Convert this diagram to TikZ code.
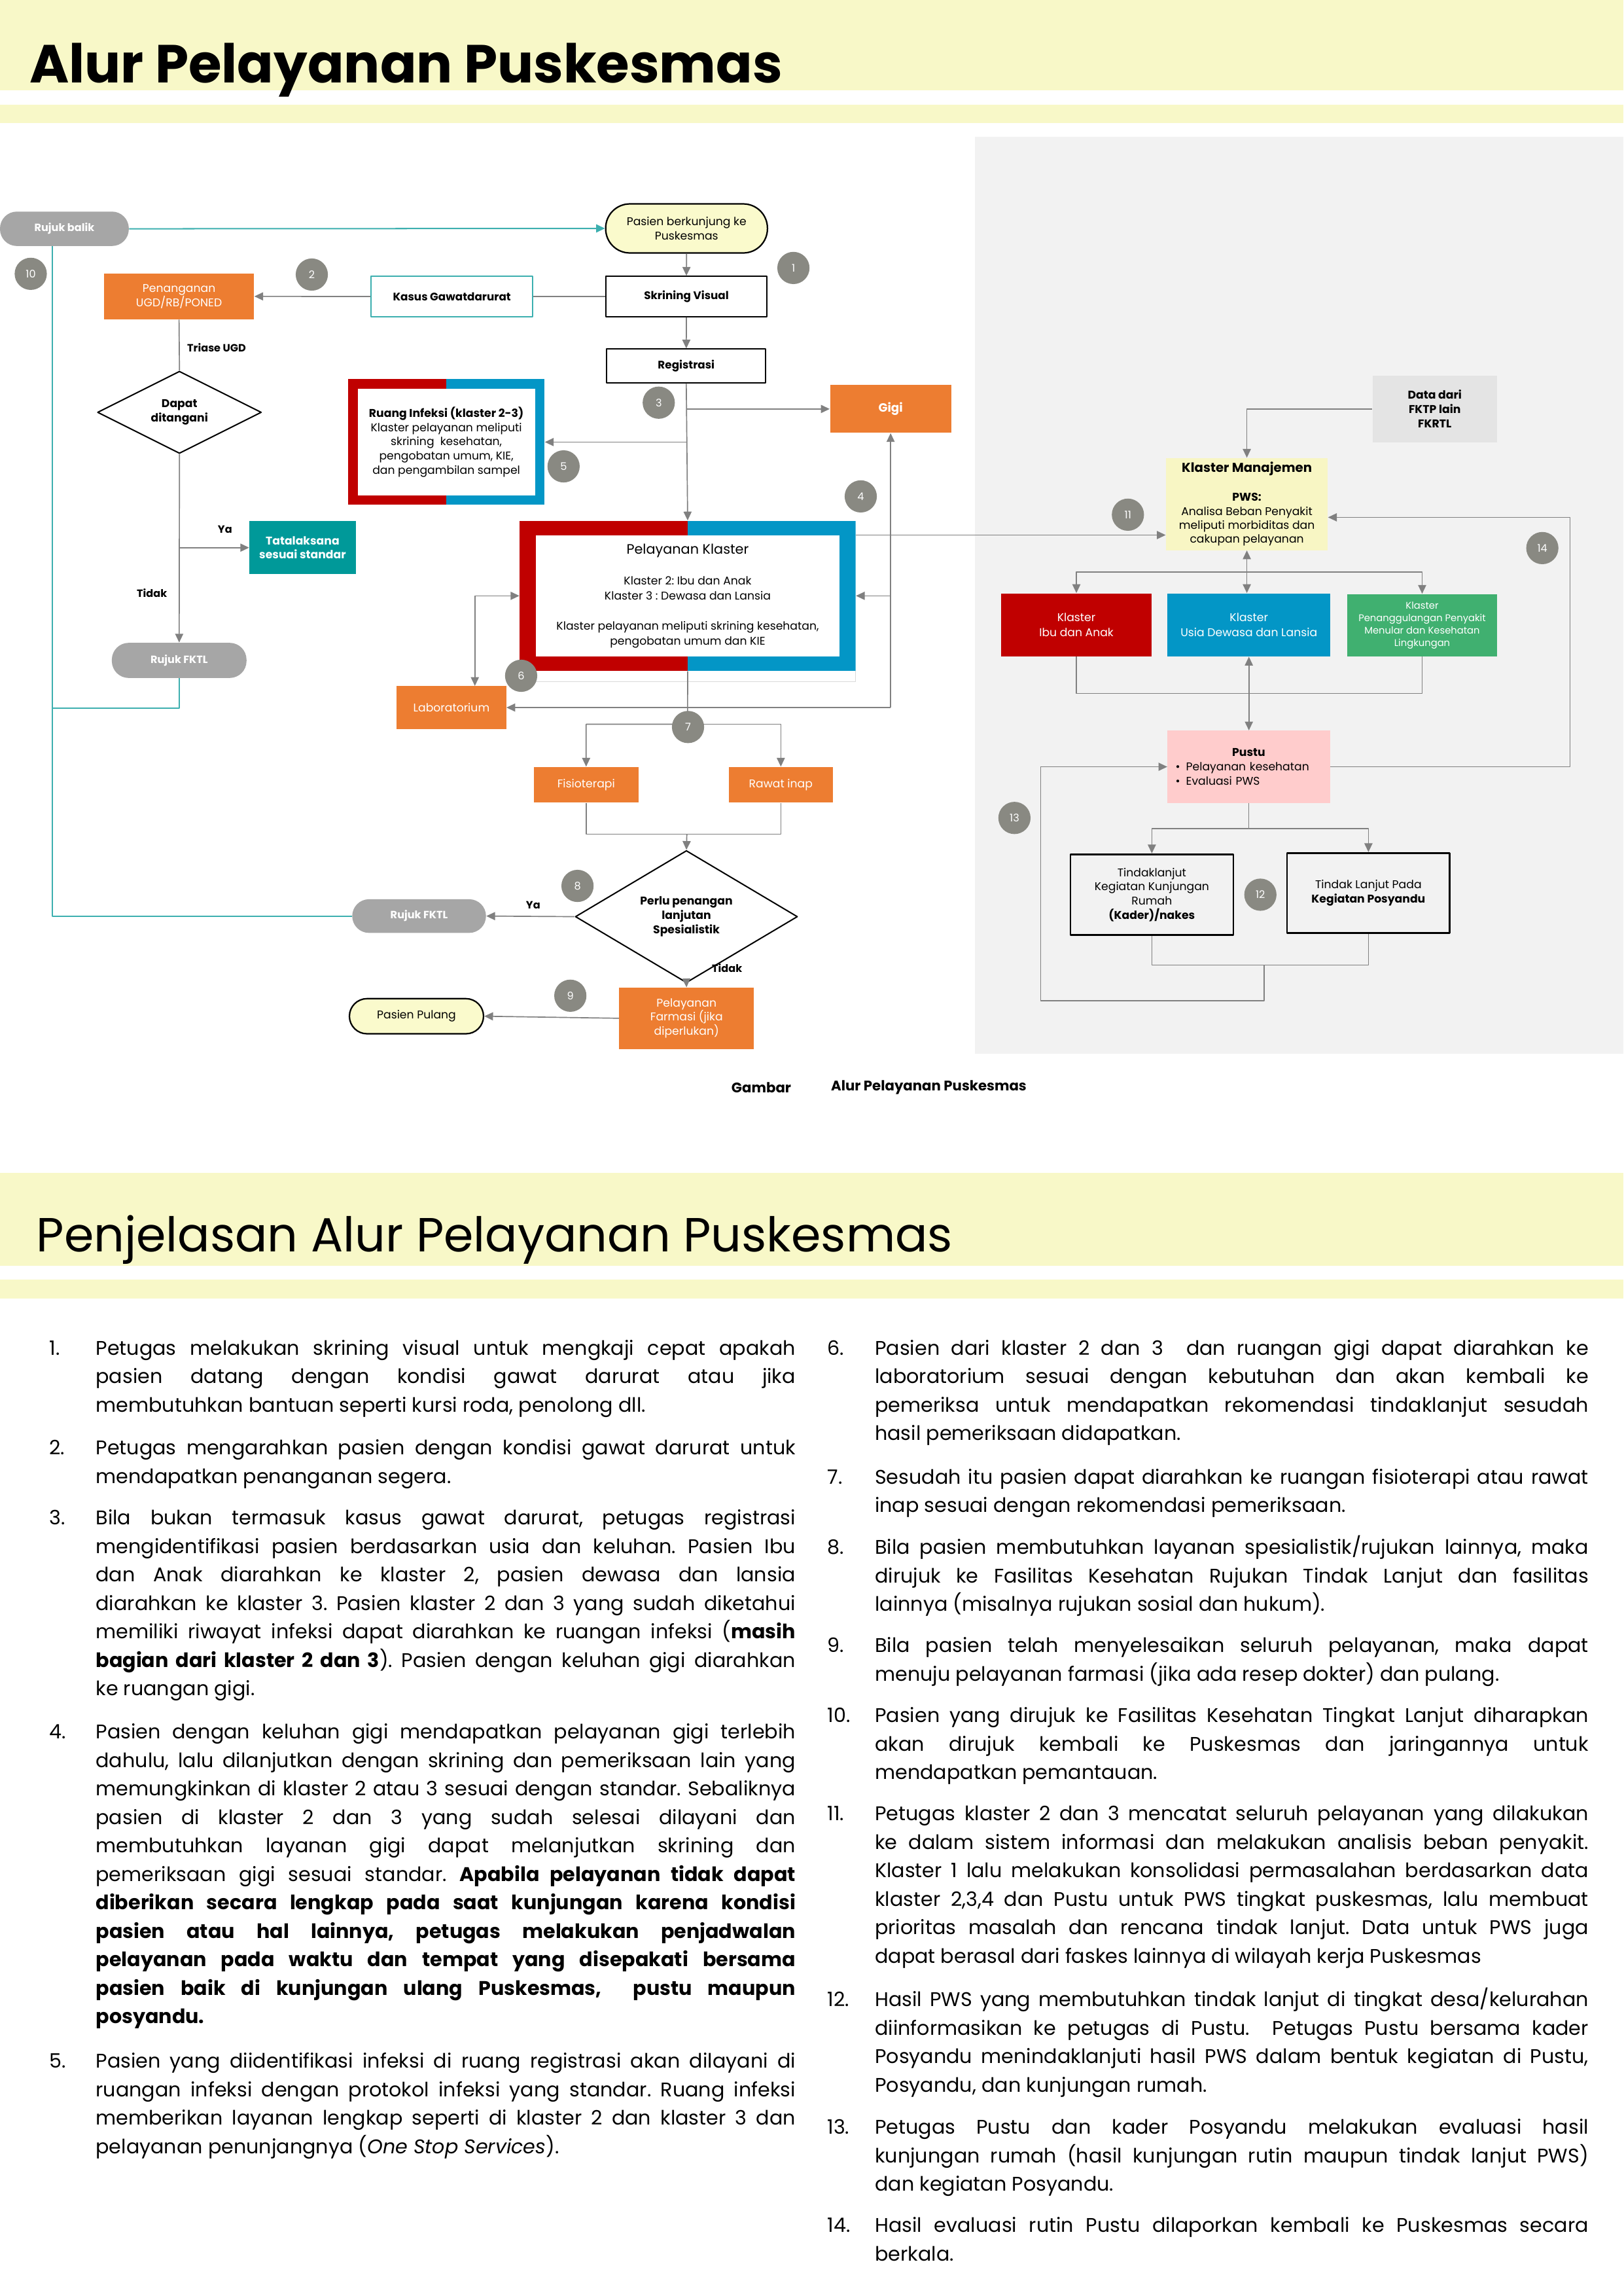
\documentclass[tikz,border=0pt]{standalone}
\usepackage{fontspec}
\setmainfont{Poppins}
\usetikzlibrary{arrows.meta,shapes.geometric}
\definecolor{bandY}{RGB}{248,248,200}
\definecolor{panelG}{RGB}{242,242,242}
\definecolor{lineG}{RGB}{128,128,128}
\definecolor{tealL}{RGB}{60,175,175}
\definecolor{tealF}{RGB}{0,153,153}
\definecolor{badgeG}{RGB}{137,137,130}
\definecolor{pillG}{RGB}{166,166,166}
\definecolor{pillY}{RGB}{250,250,204}
\definecolor{boxO}{RGB}{237,125,49}
\definecolor{klRed}{RGB}{192,0,0}
\definecolor{klBlue}{RGB}{3,150,198}
\definecolor{klGreen}{RGB}{64,176,112}
\definecolor{kmY}{RGB}{248,246,196}
\definecolor{pustuP}{RGB}{255,204,204}
\definecolor{dataG}{RGB}{228,228,228}
\hyphenpenalty=10000
\exhyphenpenalty=10000
\tolerance=10000
\frenchspacing
\tikzset{conn/.style={draw=lineG,line width=.75pt},
 arr/.style={conn,-{Triangle[length=6pt,width=5.5pt]}},
 arrb/.style={conn,{Triangle[length=6pt,width=5.5pt]}-{Triangle[length=6pt,width=5.5pt]}},
 tconn/.style={draw=tealL,line width=.9pt},
 tarr/.style={tconn,-{Triangle[length=6pt,width=5.5pt]}},
 badge/.style={circle,fill=badgeG,text=white,minimum size=22pt,inner sep=0pt,font=\fontsize{7.2}{8}\selectfont},
 obox/.style={rectangle,fill=boxO,text=white,align=center,inner sep=1pt,font=\fontsize{7.7}{9.7}\selectfont},
 wbox/.style={rectangle,draw=black,line width=.9pt,fill=white,inner sep=1pt,font=\fontsize{7.5}{8.5}\selectfont\bfseries},
 gpill/.style={rectangle,rounded corners=11.5pt,fill=pillG,text=white,inner sep=1pt,font=\fontsize{7.2}{8.5}\selectfont\bfseries},
 ypill/.style={rectangle,rounded corners=12pt,draw=black,line width=1pt,fill=pillY,align=center,inner sep=1pt,font=\fontsize{7.7}{9.7}\selectfont},
 decide/.style={diamond,draw=black,line width=.9pt,fill=white,inner sep=0pt,align=center,font=\fontsize{7.7}{9.7}\selectfont\bfseries},
 cbox/.style={rectangle,text=white,align=center,inner sep=1pt,font=\fontsize{7.7}{10}\selectfont},
 lbl/.style={inner sep=0pt,font=\fontsize{7.2}{8.5}\selectfont\bfseries},
 klframe/.style 2 args={rectangle,inner sep=0pt,align=center,path picture={
  \fill[klRed] (path picture bounding box.north west) rectangle (path picture bounding box.south);
  \fill[klBlue] (path picture bounding box.north) rectangle (path picture bounding box.south east);
  \fill[white] ([xshift=#1,yshift=-#2]path picture bounding box.north west) rectangle ([xshift=-#1,yshift=#2]path picture bounding box.south east);}},
 num/.style={anchor=base west,inner sep=0pt,font=\fontsize{13.5}{19.45}\selectfont},
 bodyL/.style={num,align=justify,text width=478pt},
 bodyR/.style={num,align=justify,text width=487.5pt},
 every picture/.style={line join=round}}
\begin{document}
\begin{tikzpicture}[x=1pt,y=-1pt]
\useasboundingbox (0,0) rectangle (1109,1568);
\fill[bandY] (0,0) rectangle (1109,61.8);
\fill[bandY] (0,71.6) rectangle (1109,84);
\fill[bandY] (0,801) rectangle (1109,864.6);
\fill[bandY] (0,874) rectangle (1109,887);
\fill[panelG] (666,93.5) rectangle (1109,719.5);
\node[anchor=base west,inner sep=0pt,font=\fontsize{36.6}{40}\selectfont\bfseries] (title) at (20,56.7) {Alur Pelayanan Puskesmas};
\node[anchor=base west,inner sep=0pt,font=\fontsize{32.7}{36}\selectfont] (title2) at (24.7,855) {Penjelasan Alur Pelayanan Puskesmas};
\node[gpill,minimum width=88pt,minimum height=23.5pt] (rb) at (44,156.25) {Rujuk balik};
\node[ypill,rounded corners=16.5pt,minimum width=110.5pt,minimum height=33.5pt] (pasien) at (469,156) {Pasien berkunjung ke\\Puskesmas};
\node[wbox,minimum width=110.3pt,minimum height=27.5pt] (skr) at (468.9,202.5) {Skrining Visual};
\node[wbox,draw=tealL,minimum width=110.5pt,minimum height=27.5pt] (kasus) at (308.7,202.5) {Kasus Gawatdarurat};
\node[obox,minimum width=102.5pt,minimum height=31.3pt] (ugd) at (122.3,202.4) {Penanganan\\UGD/RB/PONED};
\node[decide,minimum width=112pt,minimum height=54.3pt] (dt) at (122.6,281.6) {Dapat\\ditangani};
\node[cbox,fill=tealF,font=\fontsize{7.7}{9.7}\selectfont\bfseries,minimum width=72.6pt,minimum height=36pt] (tata) at (206.7,374) {Tatalaksana\\sesuai standar};
\node[gpill,minimum width=92pt,minimum height=24pt] (rf1) at (122.4,451) {Rujuk FKTL};
\node[klframe={6.5pt}{6.5pt},minimum width=134.2pt,minimum height=85.8pt,font=\fontsize{7.7}{9.8}\selectfont] (ri) at (304.9,301.9) {\textbf{Ruang Infeksi (klaster 2-3)}\\Klaster pelayanan meliputi\\skrining\ \ kesehatan,\\pengobatan umum, KIE,\\dan pengambilan sampel};
\node[wbox,minimum width=108.5pt,minimum height=23.2pt] (reg) at (468.8,250) {Registrasi};
\node[obox,font=\fontsize{8.2}{9}\selectfont\bfseries,minimum width=82.8pt,minimum height=32.6pt] (gigi) at (608.4,279.3) {Gigi};
\draw[draw=black!15,line width=.6pt] (356,465.6) -- (584.5,465.6) -- (584.5,458);
\node[klframe={11pt}{10pt},minimum width=229.5pt,minimum height=102.6pt,font=\fontsize{7.7}{10.2}\selectfont] (pk) at (469.75,406.9) {{\fontsize{9.3}{10.2}\selectfont Pelayanan Klaster}\\[11pt]Klaster 2: Ibu dan Anak\\Klaster 3 : Dewasa dan Lansia\\[10.4pt]Klaster pelayanan meliputi skrining kesehatan,\\pengobatan umum dan KIE};
\node[obox,minimum width=74.7pt,minimum height=29.1pt] (lab) at (308.4,483.2) {Laboratorium};
\node[obox,minimum width=71.6pt,minimum height=24.3pt] (fis) at (400.4,535.9) {Fisioterapi};
\node[obox,minimum width=71.2pt,minimum height=24.3pt] (rawat) at (533.4,535.9) {Rawat inap};
\node[decide,minimum width=151.8pt,minimum height=68.9pt] (sp) at (468.9,626) {Perlu penangan\\lanjutan\\Spesialistik};
\node[gpill,minimum width=91.4pt,minimum height=23pt] (rf2) at (286.3,625.6) {Rujuk FKTL};
\node[obox,minimum width=92pt,minimum height=41.9pt] (farm) at (469,695.4) {Pelayanan\\Farmasi (jika\\diperlukan)};
\node[ypill,minimum width=91.6pt,minimum height=24pt] (pp) at (284.5,694) {Pasien Pulang};
\node[rectangle,fill=dataG,align=center,inner sep=1pt,font=\fontsize{7.7}{9.75}\selectfont\bfseries,minimum width=85pt,minimum height=45.5pt] (data) at (980.1,279.3) {Data dari\\FKTP lain\\FKRTL};
\node[rectangle,fill=kmY,align=center,inner sep=1pt,font=\fontsize{7.7}{9.6}\selectfont,minimum width=110.5pt,minimum height=62.9pt] (km) at (851.75,344.25) {{\fontsize{8.8}{9.6}\selectfont\bfseries Klaster Manajemen}\\[10pt]\textbf{PWS:}\\Analisa Beban Penyakit\\meliputi morbiditas dan\\cakupan pelayanan};
\node[cbox,fill=klRed,minimum width=102.6pt,minimum height=43.1pt] (ibu) at (735.3,426.75) {Klaster\\Ibu dan Anak};
\node[cbox,fill=klBlue,minimum width=111.1pt,minimum height=43.1pt] (usia) at (853.15,426.75) {Klaster\\Usia Dewasa dan Lansia};
\node[cbox,fill=klGreen,font=\fontsize{6.6}{8.5}\selectfont,minimum width=102.2pt,minimum height=42.6pt] (pen) at (971.5,427) {Klaster\\Penanggulangan Penyakit\\Menular dan Kesehatan\\Lingkungan};
\node[rectangle,fill=pustuP,align=left,text width=100pt,inner xsep=5.45pt,inner ysep=1pt,font=\fontsize{7.7}{9.7}\selectfont,minimum height=49.3pt] (pustu) at (853.05,523.65) {\makebox[\linewidth]{\textbf{Pustu}}\\\textbullet\hspace{4pt}Pelayanan kesehatan\\\textbullet\hspace{4pt}Evaluasi PWS};
\node[rectangle,draw=black,line width=1.2pt,fill=panelG,align=center,inner sep=1pt,font=\fontsize{7.7}{9.75}\selectfont,minimum width=111.3pt,minimum height=55.2pt] (tl1) at (786.85,611) {Tindaklanjut\\Kegiatan Kunjungan\\Rumah\\\textbf{(Kader)/nakes}};
\node[rectangle,draw=black,line width=1.2pt,fill=panelG,align=center,inner sep=1pt,font=\fontsize{7.7}{10}\selectfont,minimum width=111.2pt,minimum height=54.8pt] (tl2) at (934.8,609.9) {Tindak Lanjut Pada\\\textbf{Kegiatan Posyandu}};
\coordinate (rbs) at (35.8,168);
\coordinate (rbj) at (35.8,483.5);
\coordinate (pkr) at ([yshift=-10pt]pk.north east);
\coordinate (labt) at ([xshift=16pt]lab.north);
\coordinate (gj) at (gigi.south |- lab.east);
\coordinate (split7) at (469.7,494.6);
\coordinate (j7) at (469.2,569.6);
\coordinate (k14) at (1072.5,353.3);
\coordinate (kb) at (851.75,390.6);
\coordinate (kj) at (853.3,473.6);
\coordinate (ps) at (853.05,566);
\coordinate (tj) at (863.6,659);
\coordinate (tb) at (863.6,683.5);
\coordinate (lp) at (710.9,523.65);
\draw[tarr] (rb.east) -- (pasien.west);
\draw[arr] (pasien.south) -- (skr.north);
\draw[conn] (skr.west) -- (kasus.east);
\draw[arr] (kasus.west) -- (ugd.east);
\draw[arr] (skr.south) -- (reg.north);
\draw[arr] (reg.south) -- (pk.north);
\draw[arr] (reg.south |- gigi.west) -- (gigi.west);
\draw[arr] (reg.south |- ri.east) -- (ri.east);
\draw[conn] (ugd.south) -- (dt.north);
\draw[arr] (dt.south) -- (rf1.north);
\draw[arr] (dt.south |- tata.west) -- (tata.west);
\draw[tconn] (rf1.south) |- (rbj);
\draw[tconn] (rf2.west) -| (rbs);
\draw[arr] (pkr) -- (pkr -| km.west);
\draw[arrb] (labt) |- (pk.west);
\draw[arr] (gj) -- (gigi.south);
\draw[arr] (gj) -- (lab.east);
\draw[arr] (gigi.south |- pk.east) -- (pk.east);
\draw[arr] (pk.south) -- (split7) -| (fis.north);
\draw[arr] (split7) -| (rawat.north);
\draw[conn] (fis.south) |- (j7) -| (rawat.south);
\draw[arr] (j7) -- (sp.north);
\draw[arr] (sp.west) -- (rf2.east);
\draw[arr] (sp.south) -- (farm.north);
\draw[arr] (farm.west) -- (pp.east);
\draw[arr] (data.west) -| (km.north);
\draw[arr] (pustu.east) -| (k14) -- (k14 -| km.east);
\draw[arr] (kb) -- (km.south);
\draw[arr] (kb) -| (ibu.north);
\draw[arr] (kb) -| (pen.north);
\draw[arr] (kb) -- (kb |- usia.north);
\draw[conn] (ibu.south) |- (kj) -| (pen.south);
\draw[arrb] (usia.south) -- (usia.south |- pustu.north);
\draw[arr] (pustu.south) -- (ps) -| (tl1.north);
\draw[arr] (ps) -| (tl2.north);
\draw[conn] (tl1.south) |- (tj) -| (tl2.south);
\draw[arr] (tj) -- (tb) -| (lp) -- (pustu.west);
\node[lbl,anchor=west] (triase) at (127.7,237.5) {Triase UGD};
\node[lbl] (ya1) at (153.7,361.5) {Ya};
\node[lbl] (tidak1) at (103.8,405) {Tidak};
\node[lbl] (ya2) at (364.2,618) {Ya};
\node[lbl] (tidak2) at (496.7,661) {Tidak};
\node[badge] (b1) at (542,183) {1};
\node[badge] (b2) at (213,187.5) {2};
\node[badge] (b3) at (450,275) {3};
\node[badge] (b4) at (588,339) {4};
\node[badge] (b5) at (385,318.5) {5};
\node[badge] (b6) at (356,461.5) {6};
\node[badge] (b7) at (470,496.5) {7};
\node[badge] (b8) at (394.5,605) {8};
\node[badge] (b9) at (389.6,680) {9};
\node[badge] (b10) at (21,187) {10};
\node[badge] (b11) at (770.5,351.5) {11};
\node[badge] (b12) at (861,611) {12};
\node[badge] (b13) at (693,558.6) {13};
\node[badge] (b14) at (1053.6,374.3) {14};
\node[lbl,anchor=west,font=\fontsize{9.5}{10}\selectfont\bfseries] (capA) at (499.5,742.8) {Gambar};
\node[lbl,anchor=west,font=\fontsize{9.5}{10}\selectfont\bfseries] (capB) at (567.5,742.8) {Alur Pelayanan Puskesmas};
\node[num] (n1) at (33.5,925.4) {1.};
\node[bodyL] (p1) at (65.3,925.4) {Petugas melakukan skrining visual untuk mengkaji cepat apakah \linebreak pasien datang dengan kondisi gawat darurat atau jika \linebreak membutuhkan bantuan seperti kursi roda, penolong dll.};
\node[num] (n2) at (33.5,993.4) {2.};
\node[bodyL] (p2) at (65.3,993.4) {Petugas mengarahkan pasien dengan kondisi gawat darurat untuk \linebreak mendapatkan penanganan segera.};
\node[num] (n3) at (33.5,1041.4) {3.};
\node[bodyL] (p3) at (65.3,1041.4) {Bila bukan termasuk kasus gawat darurat, petugas registrasi \linebreak mengidentifikasi pasien berdasarkan usia dan keluhan. Pasien Ibu \linebreak dan Anak diarahkan ke klaster 2, pasien dewasa dan lansia \linebreak diarahkan ke klaster 3. Pasien klaster 2 dan 3 yang sudah diketahui \linebreak memiliki riwayat infeksi dapat diarahkan ke ruangan infeksi (\textbf{masih} \linebreak \textbf{bagian dari klaster 2 dan 3}). Pasien dengan keluhan gigi diarahkan \linebreak ke ruangan gigi.};
\node[num] (n4) at (33.5,1187.4) {4.};
\node[bodyL] (p4) at (65.3,1187.4) {Pasien dengan keluhan gigi mendapatkan pelayanan gigi terlebih \linebreak dahulu, lalu dilanjutkan dengan skrining dan pemeriksaan lain yang \linebreak memungkinkan di klaster 2 atau 3 sesuai dengan standar. Sebaliknya \linebreak pasien di klaster 2 dan 3 yang sudah selesai dilayani dan \linebreak membutuhkan layanan gigi dapat melanjutkan skrining dan \linebreak pemeriksaan gigi sesuai standar. \textbf{Apabila pelayanan tidak dapat \linebreak diberikan secara lengkap pada saat kunjungan karena kondisi \linebreak pasien atau hal lainnya, petugas melakukan penjadwalan \linebreak pelayanan pada waktu dan tempat yang disepakati bersama \linebreak pasien baik di kunjungan ulang Puskesmas,\ \ pustu maupun \linebreak posyandu.}};
\node[num] (n5) at (33.5,1412.4) {5.};
\node[bodyL] (p5) at (65.3,1412.4) {Pasien yang diidentifikasi infeksi di ruang registrasi akan dilayani di \linebreak ruangan infeksi dengan protokol infeksi yang standar. Ruang infeksi \linebreak memberikan layanan lengkap seperti di klaster 2 dan klaster 3 dan \linebreak pelayanan penunjangnya (\textit{One Stop Services}).};
\node[num] (n6) at (565,925.4) {6.};
\node[bodyR] (p6) at (597.5,925.4) {Pasien dari klaster 2 dan 3\ \ dan ruangan gigi dapat diarahkan ke \linebreak laboratorium sesuai dengan kebutuhan dan akan kembali ke \linebreak pemeriksa untuk mendapatkan rekomendasi tindaklanjut sesudah \linebreak hasil pemeriksaan didapatkan.};
\node[num] (n7) at (565,1013.4) {7.};
\node[bodyR] (p7) at (597.5,1013.4) {Sesudah itu pasien dapat diarahkan ke ruangan fisioterapi atau rawat \linebreak inap sesuai dengan rekomendasi pemeriksaan.};
\node[num] (n8) at (565,1061.4) {8.};
\node[bodyR] (p8) at (597.5,1061.4) {Bila pasien membutuhkan layanan spesialistik/rujukan lainnya, maka \linebreak dirujuk ke Fasilitas Kesehatan Rujukan Tindak Lanjut dan fasilitas \linebreak lainnya (misalnya rujukan sosial dan hukum).};
\node[num] (n9) at (565,1128.4) {9.};
\node[bodyR] (p9) at (597.5,1128.4) {Bila pasien telah menyelesaikan seluruh pelayanan, maka dapat \linebreak menuju pelayanan farmasi (jika ada resep dokter) dan pulang.};
\node[num] (n10) at (565,1176.4) {10.};
\node[bodyR] (p10) at (597.5,1176.4) {Pasien yang dirujuk ke Fasilitas Kesehatan Tingkat Lanjut diharapkan \linebreak akan dirujuk kembali ke Puskesmas dan jaringannya untuk \linebreak mendapatkan pemantauan.};
\node[num] (n11) at (565,1243.4) {11.};
\node[bodyR] (p11) at (597.5,1243.4) {Petugas klaster 2 dan 3 mencatat seluruh pelayanan yang dilakukan \linebreak ke dalam sistem informasi dan melakukan analisis beban penyakit. \linebreak Klaster 1 lalu melakukan konsolidasi permasalahan berdasarkan data \linebreak klaster 2,3,4 dan Pustu untuk PWS tingkat puskesmas, lalu membuat \linebreak prioritas masalah dan rencana tindak lanjut. Data untuk PWS juga \linebreak dapat berasal dari faskes lainnya di wilayah kerja Puskesmas};
\node[num] (n12) at (565,1370.4) {12.};
\node[bodyR] (p12) at (597.5,1370.4) {Hasil PWS yang membutuhkan tindak lanjut di tingkat desa/kelurahan \linebreak diinformasikan ke petugas di Pustu.\ \ Petugas Pustu bersama kader \linebreak Posyandu menindaklanjuti hasil PWS dalam bentuk kegiatan di Pustu, \linebreak Posyandu, dan kunjungan rumah.};
\node[num] (n13) at (565,1457.4) {13.};
\node[bodyR] (p13) at (597.5,1457.4) {Petugas Pustu dan kader Posyandu melakukan evaluasi hasil \linebreak kunjungan rumah (hasil kunjungan rutin maupun tindak lanjut PWS) \linebreak dan kegiatan Posyandu.};
\node[num] (n14) at (565,1524.4) {14.};
\node[bodyR] (p14) at (597.5,1524.4) {Hasil evaluasi rutin Pustu dilaporkan kembali ke Puskesmas secara \linebreak berkala.};
\end{tikzpicture}
\end{document}
